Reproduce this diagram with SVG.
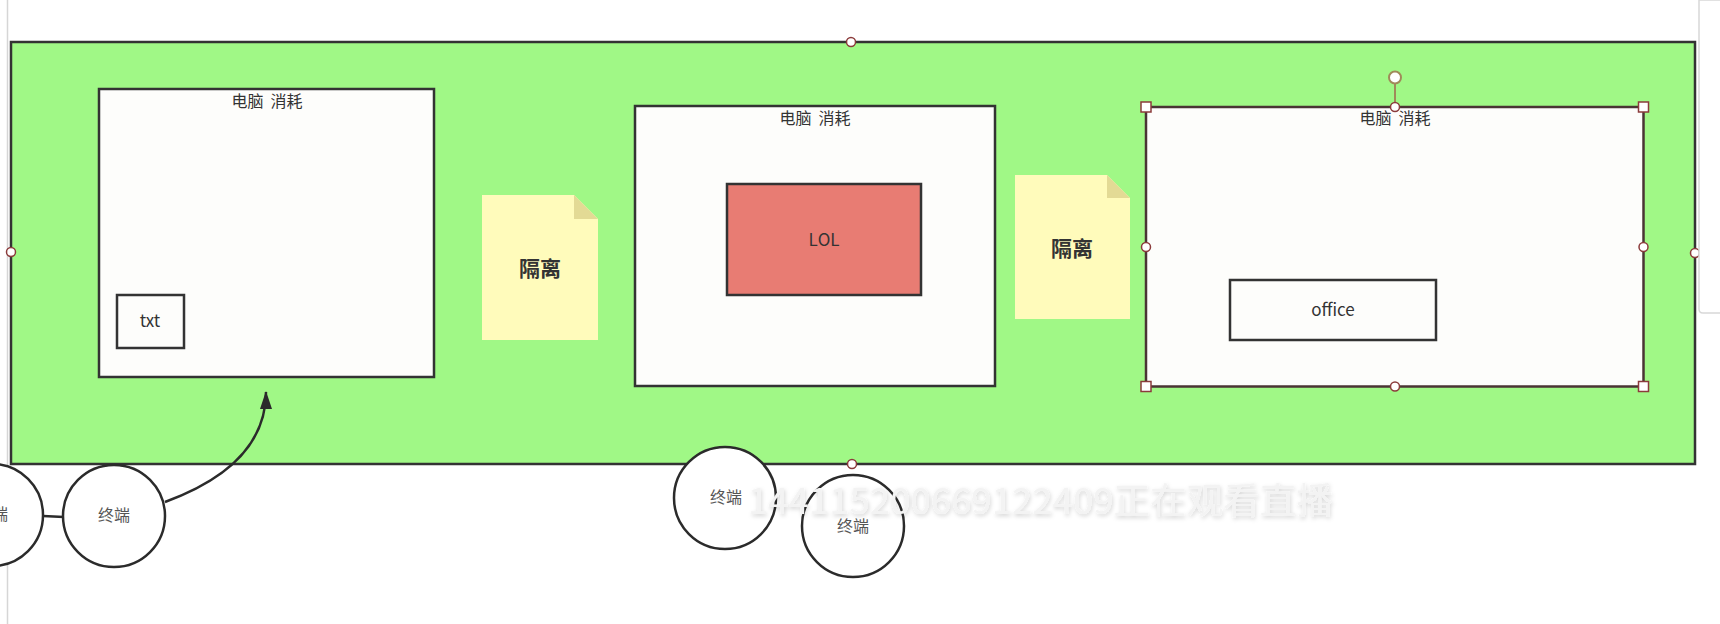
<svg xmlns="http://www.w3.org/2000/svg" width="1720" height="624" viewBox="0 0 1720 624">
<style>
  .box{fill:#fdfdfb;stroke:#333;stroke-width:2.5}
  .title{font-family:"Noto Sans CJK SC","Liberation Sans",sans-serif;font-size:16px;fill:#333;text-anchor:middle;white-space:pre}
  .lbl{font-family:"Noto Sans CJK SC","Liberation Sans",sans-serif;font-size:17px;fill:#333;text-anchor:middle}
  .note{fill:#fffbbb}
  .fold{fill:#e3da95}
  .notetxt{font-family:"Noto Sans CJK SC",sans-serif;font-size:21px;font-weight:bold;fill:#333;text-anchor:middle}
  .term{fill:#fff;stroke:#2b2b2b;stroke-width:2.5}
  .termtxt{font-family:"Noto Sans CJK SC",sans-serif;font-size:16px;fill:#555;text-anchor:middle}
  .hc{fill:#fff;stroke:#8b3b3b;stroke-width:1.5}
  .hs{fill:#fff;stroke:#8b3b3b;stroke-width:1.5}
  .conn{fill:none;stroke:#2b2b2b;stroke-width:2.5}
</style>
<defs>
  <marker id="arr" viewBox="0 0 18 12" refX="17" refY="6" markerWidth="18" markerHeight="12" markerUnits="userSpaceOnUse" orient="auto">
    <path d="M0,0 L18,6 L0,12 Z" fill="#2b2b2b"/>
  </marker>
  <filter id="sh" x="-5%" y="-30%" width="110%" height="160%">
    <feGaussianBlur in="SourceAlpha" stdDeviation="2"/>
    <feOffset dx="1" dy="2" result="b"/>
    <feFlood flood-color="#000" flood-opacity="0.18"/>
    <feComposite in2="b" operator="in"/>
    <feMerge><feMergeNode/><feMergeNode in="SourceGraphic"/></feMerge>
  </filter>
</defs>
<rect width="1720" height="624" fill="#fff"/>
<line x1="7.5" y1="0" x2="7.5" y2="624" stroke="#d6d6d6" stroke-width="1.5"/>

<g id="container">
  <rect x="11" y="42" width="1684" height="422" fill="#a0f886" stroke="#333" stroke-width="2.5"/>
  <circle class="hc" cx="11" cy="252" r="4.5"/>
  <circle class="hc" cx="851" cy="42" r="4.5"/>
  <circle class="hc" cx="852" cy="464" r="4.5"/>
  <circle class="hc" cx="1695" cy="253" r="4.5"/>
</g>

<g id="pc1">
  <rect class="box" x="99" y="89" width="335" height="288"/>
  <text class="title" x="267" y="107" xml:space="preserve">电脑  消耗</text>
</g>
<g id="txt">
  <rect class="box" x="117" y="295" width="67" height="53"/>
  <text class="lbl" x="150" y="327">txt</text>
</g>

<g id="note1">
  <path class="note" d="M482,195 H574 L598,219 V340 H482 Z"/>
  <path class="fold" d="M574,195 L598,219 H574 Z"/>
  <text class="notetxt" x="540" y="276">隔离</text>
</g>

<g id="pc2">
  <rect class="box" x="635" y="106" width="360" height="280"/>
  <text class="title" x="815" y="124" xml:space="preserve">电脑  消耗</text>
</g>
<g id="lol">
  <rect x="727" y="184" width="194" height="111" fill="#e87c73" stroke="#333" stroke-width="2.5"/>
  <text class="lbl" x="824" y="246">LOL</text>
</g>

<g id="note2">
  <path class="note" d="M1015,175 H1107 L1130,198 V319 H1015 Z"/>
  <path class="fold" d="M1107,175 L1130,198 H1107 Z"/>
  <text class="notetxt" x="1072" y="256">隔离</text>
</g>

<g id="pc3">
  <rect x="1146" y="107" width="497.5" height="279.5" fill="#fdfdfb" stroke="#4a3434" stroke-width="2.5"/>
  <text class="title" x="1395" y="124" xml:space="preserve">电脑  消耗</text>
  <line x1="1395" y1="83" x2="1395" y2="107" stroke="#a08a5a" stroke-width="2"/>
  <circle cx="1395" cy="77.5" r="6" fill="#fff" stroke="#a08a5a" stroke-width="2"/>
  <rect class="hs" x="1141" y="102" width="10" height="10"/>
  <rect class="hs" x="1638.5" y="102" width="10" height="10"/>
  <rect class="hs" x="1141" y="381.5" width="10" height="10"/>
  <rect class="hs" x="1638.5" y="381.5" width="10" height="10"/>
  <circle class="hc" cx="1395" cy="107" r="4.5"/>
  <circle class="hc" cx="1395" cy="386.5" r="4.5"/>
  <circle class="hc" cx="1146" cy="247" r="4.5"/>
  <circle class="hc" cx="1643.5" cy="247" r="4.5"/>
</g>
<g id="office">
  <rect class="box" x="1230" y="280" width="206" height="60"/>
  <text class="lbl" x="1333" y="316">office</text>
</g>

<g id="connectors">
  <line class="conn" x1="43" y1="516" x2="64" y2="517"/>
  <path class="conn" d="M165,502 C225,480 266,445 266,392" marker-end="url(#arr)"/>
</g>

<g id="term0">
  <circle class="term" cx="-8" cy="515" r="51"/>
  <text class="termtxt" x="-8" y="520">终端</text>
</g>
<g id="term1">
  <circle class="term" cx="114" cy="516" r="51"/>
  <text class="termtxt" x="114" y="521">终端</text>
</g>
<g id="term2">
  <ellipse class="term" cx="725" cy="498" rx="51" ry="51"/>
  <text class="termtxt" x="726" y="503">终端</text>
</g>
<g id="term3">
  <ellipse class="term" cx="853" cy="526" rx="51" ry="51"/>
  <text class="termtxt" x="853" y="532">终端</text>
</g>

<text x="748" y="514" textLength="585" lengthAdjust="spacingAndGlyphs" font-family="Noto Sans CJK SC, sans-serif" font-size="36" fill="#f3f3f3" filter="url(#sh)">144115200669122409正在观看直播</text>

<g id="toolbar">
  <path d="M1720,0 H1699 V309 Q1699,313 1703,313 H1720" fill="#fff" stroke="#d8d8d8" stroke-width="1.5"/>
</g>
</svg>
